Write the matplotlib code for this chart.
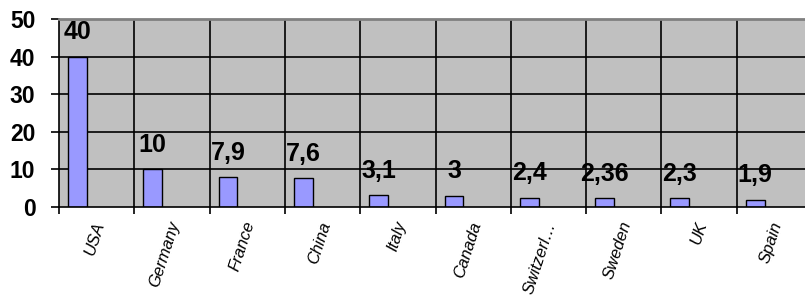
import numpy as np
import matplotlib
matplotlib.use("Agg")
import matplotlib.pyplot as plt

# 数据
countries = ["USA", "Germany", "France", "China", "Italy", "Canada",
             "Switzerl…", "Sweden", "UK", "Spain"]
values = [40, 10, 7.9, 7.6, 3.1, 3, 2.4, 2.36, 2.3, 1.9]
y_ticks = [0, 10, 20, 30, 40, 50]

plt.rcParams['font.family'] = ['Liberation Sans', 'DejaVu Sans']

W, H = 805, 296
fig = plt.figure(figsize=(W / 100, H / 100), dpi=100)
# 绘图区右侧超出画布 (原图被裁剪)
left, right, top, bottom = 59, 812, 19, 207
ax = fig.add_axes([left / W, 1 - bottom / H, (right - left) / W, (bottom - top) / H])

ax.set_facecolor('#C0C0C0')
ax.set_xlim(0, len(countries))
ax.set_ylim(0, 50)

# 网格线
for y in y_ticks[1:-1]:
    ax.axhline(y, color='black', lw=1.2, zorder=1)
for i in range(1, len(countries)):
    ax.axvline(i, color='black', lw=1.2, zorder=1)

x = np.arange(len(countries))
bars = ax.bar(x + 0.245, values, width=0.25, color='#9999FF',
              edgecolor='black', linewidth=1.0, zorder=2)

for xi, v in zip(x, values):
    ax.annotate(f"{v:g}".replace('.', ','), (xi + 0.245, v),
                xytext=(0, 9), textcoords='offset points',
                ha='center', va='bottom', fontsize=18, fontweight='bold')

# 坐标轴
ax.spines['top'].set_color('#808080')
ax.spines['top'].set_linewidth(2)
ax.spines['right'].set_visible(False)
ax.spines['left'].set_linewidth(1.2)
ax.spines['bottom'].set_linewidth(1.2)

ax.set_yticks(y_ticks)
ax.set_yticklabels([str(t) for t in y_ticks], fontsize=16.5, fontweight='bold')
ax.tick_params(axis='y', length=6, width=1.2, pad=11)

ax.set_xticks(np.arange(len(countries) + 1))
ax.set_xticklabels([])
ax.tick_params(axis='x', which='major', length=5, width=1.2)
ax.set_xticks(x + 0.45, minor=True)
ax.set_xticklabels(countries, minor=True, rotation=72, ha='right',
                   rotation_mode='anchor', fontsize=12, fontstyle='italic')
ax.tick_params(axis='x', which='minor', length=0, pad=9)

fig.savefig('out.png', dpi=100)
